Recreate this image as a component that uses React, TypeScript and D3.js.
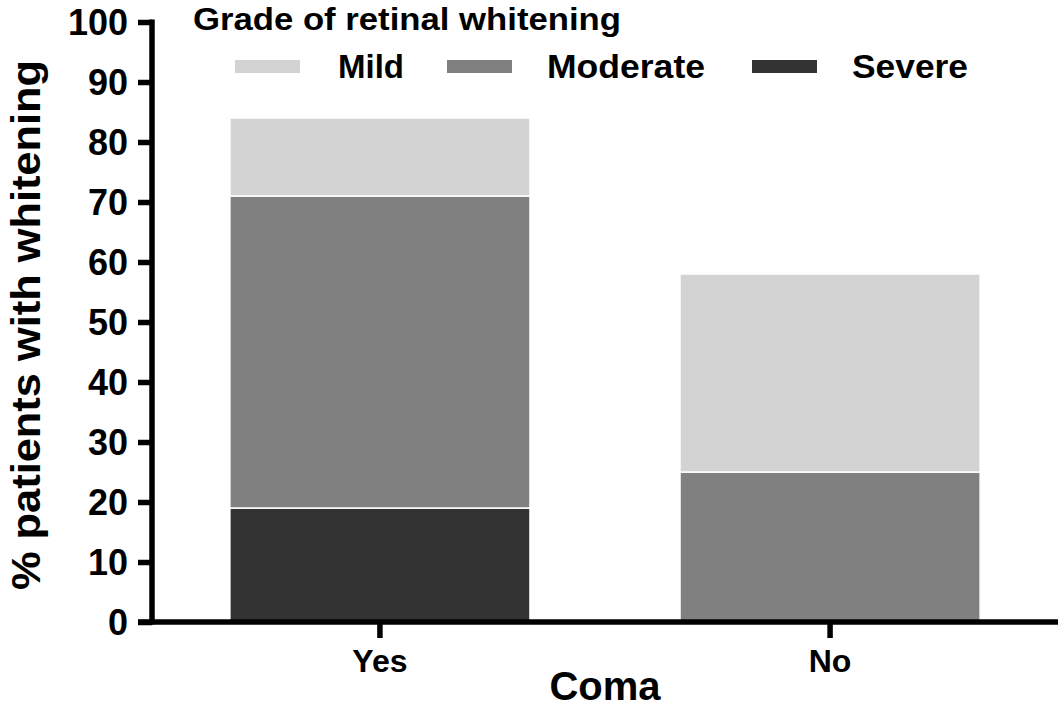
import React, { useRef, useEffect } from 'react';
import * as d3 from 'd3';

const categories = ['Yes', 'No'];
const grades = ['Severe', 'Moderate', 'Mild'];
const severeValues = [19, 0];
const moderateValues = [52, 25];
const mildValues = [13, 33];
const yTicks = [0, 10, 20, 30, 40, 50, 60, 70, 80, 90, 100];
const legendOrder = ['Mild', 'Moderate', 'Severe'];

const colors: Record<string, string> = {
  Mild: '#d3d3d3',
  Moderate: '#808080',
  Severe: '#333333',
};

const FONT = 'Liberation Sans, Arial, sans-serif';

const App = () => {
  const svgRef = useRef<SVGSVGElement>(null);

  useEffect(() => {
    const width = 1061;
    const height = 712;
    const left = 152;
    const right = 1058;
    const top = 22;
    const bottom = 622;

    const svg = d3.select(svgRef.current);
    svg.selectAll('*').remove();
    svg.attr('width', width).attr('height', height);

    const rows = categories.map((c, i) => ({
      cat: c,
      Severe: severeValues[i],
      Moderate: moderateValues[i],
      Mild: mildValues[i],
    }));

    const x = d3
      .scaleBand()
      .domain(categories)
      .range([left, right])
      .paddingInner(1 / 3)
      .paddingOuter(0.173);

    const y = d3.scaleLinear().domain([0, 100]).range([bottom, top]);

    const stacked = d3.stack().keys(grades)(rows as any);

    // bars
    const layers = svg
      .append('g')
      .selectAll('g')
      .data(stacked)
      .enter()
      .append('g')
      .attr('fill', d => colors[d.key]);

    layers
      .selectAll('rect')
      .data(d => d)
      .enter()
      .append('rect')
      .attr('x', (d: any) => x(d.data.cat)!)
      .attr('width', x.bandwidth())
      .attr('y', d => y(d[1]))
      .attr('height', d => y(d[0]) - y(d[1]))
      .attr('stroke', d => (d[1] - d[0] > 0 ? '#fff' : 'none'))
      .attr('stroke-width', 1.5);

    // y axis
    const yAxis = svg
      .append('g')
      .attr('transform', `translate(${left},0)`)
      .call(
        d3
          .axisLeft(y)
          .tickValues(yTicks)
          .tickSize(14)
          .tickSizeOuter(0)
          .tickPadding(10)
      );
    yAxis.select('.domain').attr('stroke', '#000').attr('stroke-width', 5.5)
      .attr('d', `M0,${top - 2.5}V${bottom + 2.5}`);
    yAxis.selectAll('.tick line').attr('stroke', '#000').attr('stroke-width', 5.5);
    yAxis
      .selectAll('.tick text')
      .attr('fill', '#000')
      .attr('font-family', FONT)
      .attr('font-weight', 'bold')
      .attr('font-size', 36)
      .attr('dy', '0.36em');

    // x axis
    const xAxis = svg
      .append('g')
      .attr('transform', `translate(0,${bottom})`)
      .call(d3.axisBottom(x).tickSize(16).tickSizeOuter(0).tickPadding(10));
    xAxis.select('.domain').attr('stroke', '#000').attr('stroke-width', 5.5)
      .attr('d', `M${left - 14},0H${right}`);
    xAxis.selectAll('.tick line').attr('stroke', '#000').attr('stroke-width', 5.5);
    xAxis
      .selectAll('.tick text')
      .attr('fill', '#000')
      .attr('font-family', FONT)
      .attr('font-weight', 'bold')
      .attr('font-size', 32)
      .attr('dy', '0.75em');

    // axis titles
    svg
      .append('text')
      .attr('x', (left + right) / 2)
      .attr('y', 700)
      .attr('text-anchor', 'middle')
      .attr('font-family', FONT)
      .attr('font-weight', 'bold')
      .attr('font-size', 40)
      .text('Coma');

    svg
      .append('text')
      .attr('transform', `translate(40,${(top + bottom) / 2 + 3}) rotate(-90)`)
      .attr('text-anchor', 'middle')
      .attr('font-family', FONT)
      .attr('font-weight', 'bold')
      .attr('font-size', 40)
      .attr('textLength', 530)
      .attr('lengthAdjust', 'spacingAndGlyphs')
      .text('% patients with whitening');

    // legend
    svg
      .append('text')
      .attr('x', 193)
      .attr('y', 30)
      .attr('font-family', FONT)
      .attr('font-weight', 'bold')
      .attr('font-size', 31)
      .attr('textLength', 428)
      .attr('lengthAdjust', 'spacingAndGlyphs')
      .text('Grade of retinal whitening');

    const swatchX = [235, 447, 752];
    const labelX = [338, 547, 852];
    const labelW = [66, 158, 116];
    const leg = svg
      .append('g')
      .selectAll('g')
      .data(legendOrder)
      .enter()
      .append('g');
    leg
      .append('rect')
      .attr('x', (d, i) => swatchX[i])
      .attr('y', 60)
      .attr('width', 65)
      .attr('height', 13)
      .attr('fill', d => colors[d]);
    leg
      .append('text')
      .attr('x', (d, i) => labelX[i])
      .attr('y', 78)
      .attr('font-family', FONT)
      .attr('font-weight', 'bold')
      .attr('font-size', 33)
      .attr('textLength', (d, i) => labelW[i])
      .attr('lengthAdjust', 'spacingAndGlyphs')
      .text(d => d);
  }, []);

  return (
    <svg
      ref={svgRef}
      style={{ position: 'absolute', left: 0, top: 0, display: 'block', background: '#fff' }}
    ></svg>
  );
};

export default App;
